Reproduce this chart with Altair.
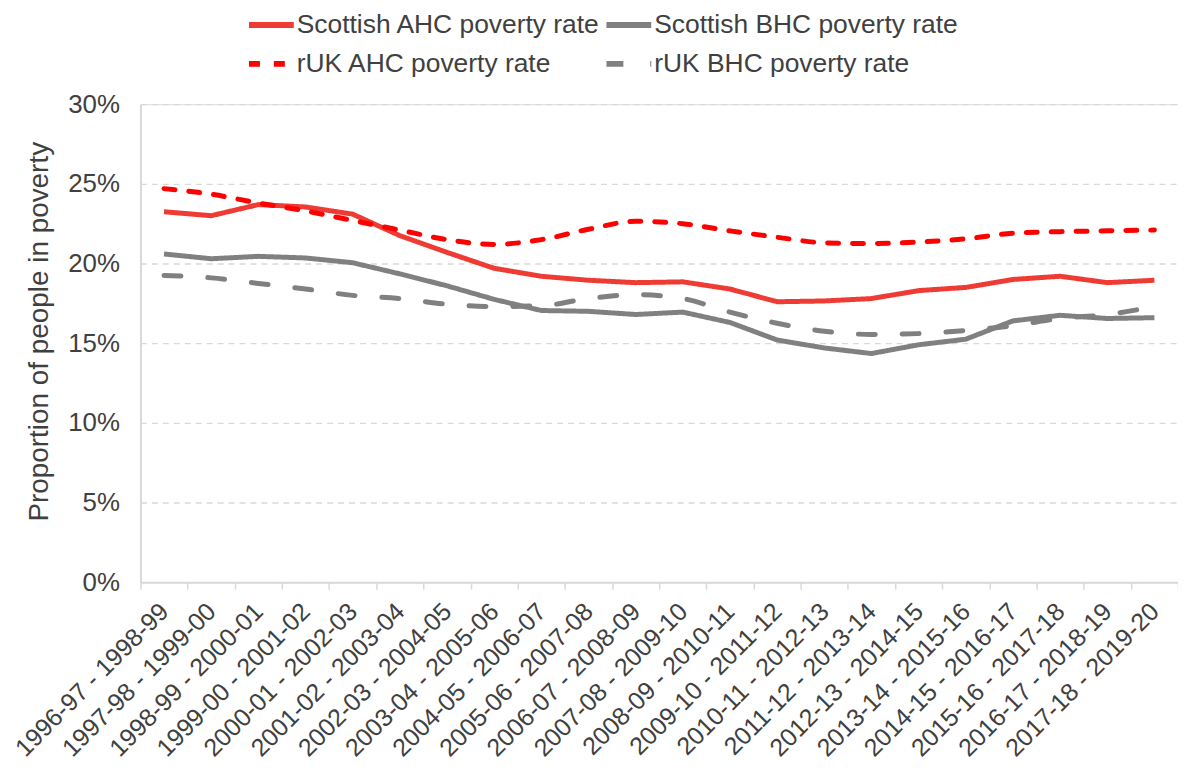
import altair as alt
import pandas as pd

categories = [
    "1996-97 - 1998-99", "1997-98 - 1999-00", "1998-99 - 2000-01", "1999-00 - 2001-02",
    "2000-01 - 2002-03", "2001-02 - 2003-04", "2002-03 - 2004-05", "2003-04 - 2005-06",
    "2004-05 - 2006-07", "2005-06 - 2007-08", "2006-07 - 2008-09", "2007-08 - 2009-10",
    "2008-09 - 2010-11", "2009-10 - 2011-12", "2010-11 - 2012-13", "2011-12 - 2013-14",
    "2012-13 - 2014-15", "2013-14 - 2015-16", "2014-15 - 2016-17", "2015-16 - 2017-18",
    "2016-17 - 2018-19", "2017-18 - 2019-20",
]

scottish_ahc = [23.25, 23.0, 23.7, 23.55, 23.1, 21.75, 20.7, 19.7, 19.2, 18.95, 18.8,
                18.85, 18.4, 17.6, 17.65, 17.8, 18.3, 18.5, 19.0, 19.2, 18.8, 18.95]
scottish_bhc = [20.6, 20.3, 20.45, 20.35, 20.05, 19.35, 18.6, 17.75, 17.05, 17.0, 16.8,
                16.95, 16.3, 15.2, 14.7, 14.35, 14.9, 15.25, 16.4, 16.75, 16.55, 16.6]
ruk_ahc = [24.7, 24.35, 23.8, 23.3, 22.7, 22.1, 21.5, 21.2, 21.5, 22.15, 22.65,
           22.5, 22.05, 21.65, 21.3, 21.25, 21.35, 21.55, 21.9, 22.0, 22.05, 22.1]
ruk_bhc = [19.25, 19.1, 18.75, 18.4, 18.0, 17.8, 17.45, 17.3, 17.35, 17.8, 18.05,
           17.8, 16.95, 16.25, 15.75, 15.55, 15.6, 15.8, 16.1, 16.55, 16.8, 17.3]

# legend order (filled column by column in a 2-column grid)
series_names = ["Scottish AHC poverty rate", "rUK AHC poverty rate",
                "Scottish BHC poverty rate", "rUK BHC poverty rate"]
series_values = [scottish_ahc, ruk_ahc, scottish_bhc, ruk_bhc]
series_colors = ["#EE3B33", "#FF0000", "#808080", "#808080"]
series_dashes = [[1, 0], [11, 14], [1, 0], [17, 27]]
scottish_names = ["Scottish AHC poverty rate", "Scottish BHC poverty rate"]
ruk_names = ["rUK AHC poverty rate", "rUK BHC poverty rate"]

rows = []
for name, vals in zip(series_names, series_values):
    for cat, v in zip(categories, vals):
        rows.append({"period": cat, "series": name, "rate": v})
df = pd.DataFrame(rows)

FONT = "Liberation Sans"
TXT = "#404040"

x = alt.X(
    "period:N", sort=categories, bandPosition=0.5,
    scale=alt.Scale(type="band", paddingInner=0, paddingOuter=0),
    axis=alt.Axis(
        title=None, labelAngle=-45, labelAlign="right", labelBaseline="middle",
        labelFontSize=25, labelFont=FONT, labelColor=TXT, labelPadding=18,
        tickBand="extent", ticks=True, tickSize=7, tickColor="#d9d9d9", tickWidth=1.5,
        domainColor="#d9d9d9", domainWidth=2, grid=False, labelLimit=400,
        labelOverlap=False,
    ),
)
y = alt.Y(
    "rate:Q",
    scale=alt.Scale(domain=[0, 30], nice=False),
    axis=alt.Axis(
        title="Proportion of people in poverty", titleFontSize=28, titleFont=FONT,
        titleColor=TXT, titleFontWeight="normal", titlePadding=14, titleY=228,
        values=[0, 5, 10, 15, 20, 25, 30], labelExpr="datum.value + '%'",
        labelFontSize=26, labelFont=FONT, labelColor=TXT, labelPadding=21,
        ticks=False, domainColor="#d9d9d9", domainWidth=2,
        grid=True, gridColor="#d9d9d9", gridDash=[6, 5], gridWidth=1.3,
    ),
)
legend_kw = dict(
    title=None, orient="none", legendX=106, legendY=-105, columns=2,
    symbolType="stroke", symbolSize=2025, symbolStrokeWidth=6,
    labelFontSize=26.5, labelFont=FONT, labelColor=TXT, labelOffset=0,
    columnPadding=-6, rowPadding=0, labelLimit=500,
)
color = alt.Color(
    "series:N",
    scale=alt.Scale(domain=series_names, range=series_colors),
    legend=alt.Legend(**legend_kw),
)
dash = alt.StrokeDash(
    "series:N",
    scale=alt.Scale(domain=series_names, range=series_dashes),
    legend=alt.Legend(**legend_kw),
)

base = alt.Chart(df).encode(x=x, y=y, color=color, strokeDash=dash)

scot = base.transform_filter(
    alt.FieldOneOfPredicate(field="series", oneOf=scottish_names)
).mark_line(strokeWidth=5)
ruk = base.transform_filter(
    alt.FieldOneOfPredicate(field="series", oneOf=ruk_names)
).mark_line(strokeWidth=5, interpolate="monotone", strokeCap="round")

chart = alt.layer(scot, ruk).properties(
    width=1042, height=480,
    autosize=alt.AutoSizeParams(type="none"),
    padding={"left": 133, "top": 95, "right": 0, "bottom": 180},
).configure_view(stroke=None).configure(background="white")

chart.save("out.html", embed_options={"renderer": "svg", "actions": False})
